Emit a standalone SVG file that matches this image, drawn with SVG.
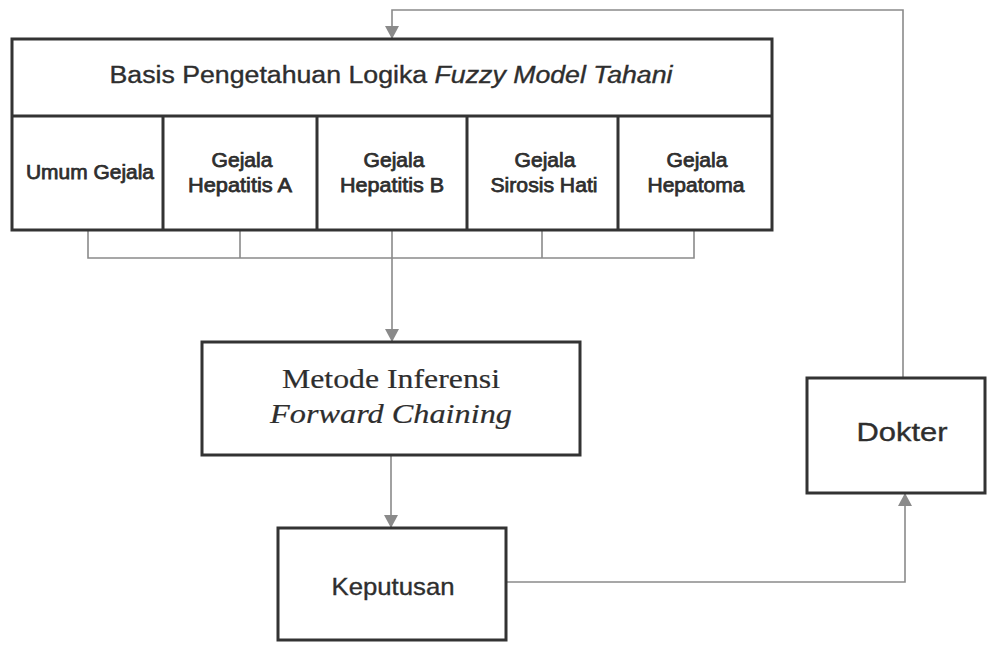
<svg xmlns="http://www.w3.org/2000/svg" width="990" height="645" viewBox="0 0 990 645">
  <style>
    .box { fill: #ffffff; stroke: #333333; stroke-width: 3; }
    .div { stroke: #333333; stroke-width: 3; fill: none; }
    .conn { stroke: #8a8a8a; stroke-width: 1.6; fill: none; }
    .sans { font-family: "Liberation Sans", Arial, sans-serif; fill: #2e2e2e; stroke: #2e2e2e; stroke-width: 0.35; text-anchor: middle; }
    .serif { font-family: "Liberation Serif", "Times New Roman", serif; fill: #2e2e2e; stroke: #2e2e2e; stroke-width: 0.2; text-anchor: middle; }
    .lbl { font-size: 20px; stroke-width: 0.75; }
  </style>
  <defs>
    <marker id="arrow" viewBox="0 0 13 14" refX="13" refY="7" markerWidth="13" markerHeight="14" markerUnits="userSpaceOnUse" orient="auto">
      <path d="M0,0 L13,7 L0,14 Z" fill="#8a8a8a"/>
    </marker>
  </defs>
  <rect width="990" height="645" fill="#ffffff"/>

  <!-- connectors -->
  <g id="connectors">
    <!-- bracket collecting the five symptom columns -->
    <path class="conn" d="M88,230 V258 H694 V230 M240,230 V258 M392,230 V258 M542,230 V258"/>
    <path class="conn" d="M392,258 V342" marker-end="url(#arrow)"/>
    <path class="conn" d="M391,455 V528" marker-end="url(#arrow)"/>
    <path class="conn" d="M506,582 H905 V493" marker-end="url(#arrow)"/>
    <path class="conn" d="M903,378 V10 H392 V39" marker-end="url(#arrow)"/>
  </g>

  <!-- knowledge base -->
  <g id="basis">
    <rect class="box" x="12" y="39" width="760" height="191"/>
    <path class="div" d="M12,116 H772 M163,116 V230 M317,116 V230 M467,116 V230 M618,116 V230"/>
    <text class="sans" x="391" y="83" font-size="23" textLength="563" lengthAdjust="spacingAndGlyphs">Basis Pengetahuan Logika <tspan font-style="italic">Fuzzy Model Tahani</tspan></text>
  </g>
  <g id="umum">
    <text class="sans lbl" x="90" y="179" textLength="128" lengthAdjust="spacingAndGlyphs">Umum Gejala</text>
  </g>
  <g id="hepatitis-a">
    <text class="sans lbl" x="242" y="167" textLength="61" lengthAdjust="spacingAndGlyphs">Gejala</text>
    <text class="sans lbl" x="240" y="192" textLength="104" lengthAdjust="spacingAndGlyphs">Hepatitis A</text>
  </g>
  <g id="hepatitis-b">
    <text class="sans lbl" x="394" y="167" textLength="61" lengthAdjust="spacingAndGlyphs">Gejala</text>
    <text class="sans lbl" x="392" y="192" textLength="104" lengthAdjust="spacingAndGlyphs">Hepatitis B</text>
  </g>
  <g id="sirosis">
    <text class="sans lbl" x="545" y="167" textLength="61" lengthAdjust="spacingAndGlyphs">Gejala</text>
    <text class="sans lbl" x="544" y="192" textLength="107" lengthAdjust="spacingAndGlyphs">Sirosis Hati</text>
  </g>
  <g id="hepatoma">
    <text class="sans lbl" x="697" y="167" textLength="61" lengthAdjust="spacingAndGlyphs">Gejala</text>
    <text class="sans lbl" x="696" y="192" textLength="97" lengthAdjust="spacingAndGlyphs">Hepatoma</text>
  </g>

  <!-- inference method -->
  <g id="metode">
    <rect class="box" x="202" y="342" width="378" height="113"/>
    <text class="serif" x="391" y="388" font-size="27" textLength="218" lengthAdjust="spacingAndGlyphs">Metode Inferensi</text>
    <text class="serif" x="391" y="423" font-size="27" font-style="italic" textLength="242" lengthAdjust="spacingAndGlyphs">Forward Chaining</text>
  </g>

  <!-- decision -->
  <g id="keputusan">
    <rect class="box" x="278" y="528" width="228" height="112"/>
    <text class="sans" x="393" y="595" font-size="24" textLength="123" lengthAdjust="spacingAndGlyphs">Keputusan</text>
  </g>

  <!-- doctor -->
  <g id="dokter">
    <rect class="box" x="807" y="378" width="178" height="115"/>
    <text class="sans" x="902" y="441" font-size="25" textLength="91" lengthAdjust="spacingAndGlyphs">Dokter</text>
  </g>
</svg>
